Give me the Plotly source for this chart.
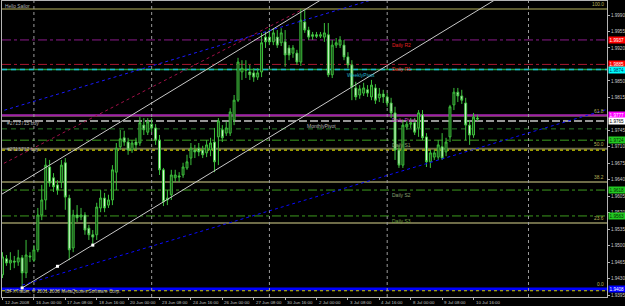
import plotly.graph_objects as go

# ---------------- data ----------------
bars = list(range(122))
opens = [1.9438, 1.9472, 1.9463, 1.9467, 1.9465, 1.9474, 1.9442, 1.9478, 1.9469, 1.9491,
         1.9565, 1.9597, 1.9667, 1.9644, 1.9629, 1.9635, 1.9676, 1.9601, 1.9495, 1.9565,
         1.9561, 1.9565, 1.9537, 1.9523, 1.9523, 1.9580, 1.9601, 1.9586, 1.9597, 1.9656,
         1.9710, 1.9729, 1.9720, 1.9703, 1.9720, 1.9718, 1.9756, 1.9741, 1.9758, 1.9750,
         1.9724, 1.9661, 1.9597, 1.9608, 1.9644, 1.9648, 1.9650, 1.9665, 1.9686, 1.9703,
         1.9707, 1.9703, 1.9697, 1.9703, 1.9720, 1.9731, 1.9746, 1.9739, 1.9739, 1.9767,
         1.9809, 1.9869, 1.9873, 1.9869, 1.9867, 1.9858, 1.9869, 1.9943, 1.9943, 1.9933,
         1.9943, 1.9931, 1.9933, 1.9920, 1.9909, 1.9909, 1.9890, 1.9975, 1.9958, 1.9948,
         1.9948, 1.9945, 1.9943, 1.9948, 1.9863, 1.9926, 1.9926, 1.9926, 1.9901, 1.9884,
         1.9835, 1.9820, 1.9824, 1.9831, 1.9816, 1.9835, 1.9814, 1.9822, 1.9816, 1.9803,
         1.9782, 1.9703, 1.9671, 1.9752, 1.9758, 1.9761, 1.9750, 1.9778, 1.9731, 1.9678,
         1.9688, 1.9688, 1.9710, 1.9699, 1.9731, 1.9799, 1.9826, 1.9818, 1.9803, 1.9756,
         1.9735, 1.9771]
highs = [1.9486, 1.9480, 1.9486, 1.9478, 1.9491, 1.9480, 1.9512, 1.9486, 1.9501, 1.9580,
         1.9629, 1.9686, 1.9682, 1.9654, 1.9639, 1.9682, 1.9686, 1.9608, 1.9576, 1.9586,
         1.9580, 1.9571, 1.9544, 1.9533, 1.9591, 1.9618, 1.9612, 1.9608, 1.9671, 1.9718,
         1.9746, 1.9744, 1.9729, 1.9724, 1.9729, 1.9773, 1.9771, 1.9771, 1.9771, 1.9758,
         1.9735, 1.9665, 1.9618, 1.9661, 1.9661, 1.9656, 1.9676, 1.9693, 1.9718, 1.9714,
         1.9718, 1.9712, 1.9724, 1.9729, 1.9750, 1.9771, 1.9756, 1.9763, 1.9792, 1.9820,
         1.9899, 1.9894, 1.9894, 1.9884, 1.9877, 1.9877, 1.9952, 1.9954, 1.9962, 1.9962,
         1.9958, 1.9962, 1.9958, 1.9926, 1.9926, 1.9916, 2.0003, 2.0001, 1.9965, 1.9954,
         1.9954, 1.9954, 1.9973, 1.9973, 1.9937, 1.9941, 1.9945, 1.9937, 1.9911, 1.9894,
         1.9848, 1.9841, 1.9846, 1.9841, 1.9852, 1.9843, 1.9835, 1.9831, 1.9824, 1.9814,
         1.9795, 1.9714, 1.9767, 1.9767, 1.9771, 1.9771, 1.9788, 1.9788, 1.9739, 1.9703,
         1.9703, 1.9724, 1.9739, 1.9729, 1.9799, 1.9835, 1.9835, 1.9831, 1.9814, 1.9767,
         1.9782, 1.9778]
lows = [1.9431, 1.9457, 1.9448, 1.9452, 1.9457, 1.9408, 1.9431, 1.9465, 1.9465, 1.9486,
        1.9554, 1.9576, 1.9625, 1.9614, 1.9608, 1.9622, 1.9576, 1.9469, 1.9486, 1.9550,
        1.9554, 1.9523, 1.9512, 1.9499, 1.9512, 1.9571, 1.9571, 1.9580, 1.9586, 1.9618,
        1.9703, 1.9712, 1.9693, 1.9697, 1.9703, 1.9712, 1.9735, 1.9735, 1.9741, 1.9714,
        1.9650, 1.9584, 1.9586, 1.9597, 1.9635, 1.9635, 1.9644, 1.9661, 1.9671, 1.9686,
        1.9690, 1.9686, 1.9688, 1.9690, 1.9656, 1.9671, 1.9720, 1.9733, 1.9733, 1.9756,
        1.9805, 1.9852, 1.9856, 1.9852, 1.9848, 1.9852, 1.9858, 1.9920, 1.9926, 1.9926,
        1.9920, 1.9924, 1.9880, 1.9894, 1.9899, 1.9884, 1.9882, 1.9952, 1.9937, 1.9937,
        1.9941, 1.9941, 1.9933, 1.9858, 1.9856, 1.9920, 1.9920, 1.9894, 1.9877, 1.9809,
        1.9809, 1.9812, 1.9818, 1.9816, 1.9809, 1.9801, 1.9805, 1.9803, 1.9795, 1.9771,
        1.9682, 1.9665, 1.9665, 1.9746, 1.9750, 1.9735, 1.9731, 1.9724, 1.9667, 1.9665,
        1.9682, 1.9682, 1.9682, 1.9690, 1.9720, 1.9788, 1.9805, 1.9801, 1.9724, 1.9714,
        1.9729, 1.9765]
closes = [1.9476, 1.9463, 1.9469, 1.9465, 1.9474, 1.9442, 1.9480, 1.9476, 1.9491, 1.9565,
          1.9597, 1.9671, 1.9633, 1.9625, 1.9618, 1.9671, 1.9603, 1.9491, 1.9565, 1.9559,
          1.9565, 1.9533, 1.9523, 1.9518, 1.9582, 1.9601, 1.9580, 1.9597, 1.9661, 1.9707,
          1.9727, 1.9720, 1.9703, 1.9718, 1.9714, 1.9761, 1.9746, 1.9763, 1.9750, 1.9724,
          1.9661, 1.9593, 1.9601, 1.9650, 1.9650, 1.9646, 1.9667, 1.9678, 1.9707, 1.9699,
          1.9699, 1.9693, 1.9714, 1.9718, 1.9678, 1.9765, 1.9729, 1.9750, 1.9784, 1.9809,
          1.9890, 1.9877, 1.9873, 1.9863, 1.9858, 1.9867, 1.9931, 1.9933, 1.9933, 1.9952,
          1.9926, 1.9952, 1.9905, 1.9905, 1.9920, 1.9890, 1.9979, 1.9958, 1.9943, 1.9945,
          1.9945, 1.9948, 1.9952, 1.9863, 1.9926, 1.9931, 1.9937, 1.9901, 1.9884, 1.9837,
          1.9816, 1.9833, 1.9835, 1.9824, 1.9841, 1.9809, 1.9822, 1.9816, 1.9803, 1.9782,
          1.9703, 1.9671, 1.9756, 1.9758, 1.9761, 1.9741, 1.9782, 1.9729, 1.9678, 1.9697,
          1.9697, 1.9714, 1.9686, 1.9720, 1.9795, 1.9826, 1.9818, 1.9809, 1.9756, 1.9735,
          1.9773, 1.9769]

date_tick_bars = [0, 8, 16, 24, 32, 40, 48, 56, 64, 72, 80, 88, 96, 104, 112, 120]
date_tick_labels = ["12 Jun 2008", "16 Jun 00:00", "17 Jun 08:00", "18 Jun 16:00",
                    "20 Jun 00:00", "23 Jun 08:00", "24 Jun 16:00", "26 Jun 00:00",
                    "27 Jun 08:00", "30 Jun 16:00", "2 Jul 00:00", "3 Jul 08:00",
                    "4 Jul 16:00", "8 Jul 00:00", "9 Jul 08:00", "10 Jul 16:00"]

price_ticks = [1.9990, 1.9955, 1.9920, 1.9850, 1.9815, 1.9745, 1.9710, 1.9675,
               1.9640, 1.9605, 1.9570, 1.9535, 1.9500, 1.9465, 1.9430, 1.9395]

week_separator_bars = [8, 38, 68, 98]
extra_vline_bar = 134

fib_labels = ["0.0", "23.6", "38.2", "50.0", "61.8", "100.0"]
fib_prices = [1.9408, 1.9548, 1.9635, 1.9706, 1.9776, 2.0003]

pivot_names = ["Daily R2", "Daily R1", "WeeklyPivot", "Daily Pivot", "MonthlyPivot",
               "Daily S1", "Daily S2", "Daily S3"]
pivot_prices = [1.9937, 1.9885, 1.9874, 1.9777, 1.9765, 1.9724, 1.9618, 1.9563]
pivot_label_bars = [98.7, 98.7, 87.3, 98.7, 77.1, 98.7, 98.7, 98.7]

order_names = ["#2713715 buy", "#2713717 buy"]
order_prices = [1.9748, 1.9703]
stop_price = 1.9404

# trend lines: anchor bars and prices
white_upper_bars, white_upper_prices = [-1, 125], [1.9605, 2.0245]
white_lower_bars, white_lower_prices = [5, 150], [1.9410, 2.0147]
white_handle_bars, white_handle_prices = [5, 14, 23], [1.9410, 1.9456, 1.9501]
blue_upper_bars, blue_upper_prices = [-1, 100], [1.9784, 2.0037]
blue_lower_bars, blue_lower_prices = [5, 155], [1.9416, 1.9792]
red_bars, red_prices = [-1, 76], [1.9669, 2.0000]

# ---------------- styling ----------------
FONT = "Liberation Sans"
AX = "#b4b4b4"
X0, X1 = -0.13, 154.0
Y0, Y1 = 1.939075, 2.001975

fig = go.Figure()

for bx, by, col in [(white_upper_bars, white_upper_prices, "#c8c8c8"),
                    (white_lower_bars, white_lower_prices, "#c8c8c8")]:
    fig.add_trace(go.Scatter(x=bx, y=by, mode="lines", line=dict(color=col, width=1),
                             hoverinfo="skip"))
for bx, by, col in [(blue_upper_bars, blue_upper_prices, "#1a1aff"),
                    (blue_lower_bars, blue_lower_prices, "#0a0aff"),
                    (red_bars, red_prices, "#a01048")]:
    fig.add_trace(go.Scatter(x=bx, y=by, mode="lines",
                             line=dict(color=col, width=1, dash="dot"), hoverinfo="skip"))

fig.add_trace(go.Candlestick(
    x=bars, open=opens, high=highs, low=lows, close=closes,
    increasing=dict(line=dict(color="#3cc03c", width=1), fillcolor="#163812"),
    decreasing=dict(line=dict(color="#3cc03c", width=1), fillcolor="#eaffe6"),
    whiskerwidth=0, hoverinfo="skip"))

fig.add_trace(go.Scatter(x=white_handle_bars, y=white_handle_prices, mode="markers",
                         marker=dict(symbol="square", size=3, color="#ffffff"),
                         hoverinfo="skip"))

shapes = []
def hline(price, color, width, dash="solid"):
    shapes.append(dict(type="line", xref="paper", x0=0, x1=1, yref="y", y0=price, y1=price,
                       line=dict(color=color, width=width, dash=dash), layer="below"))

# fibonacci levels
for lab, p in zip(fib_labels, fib_prices):
    if lab == "0.0":
        hline(p, "#0000ff", 3)
    elif lab == "100.0":
        hline(p, "#7c7a40", 1.5)
    else:
        hline(p, "#6e6c48", 2)

pivot_styles = {
    "Daily R2": ("#8a1a8a", 1, "dashdot"),
    "Daily R1": ("#a81830", 1, "dashdot"),
    "Daily Pivot": ("#a020a8", 2, "solid"),
    "MonthlyPivot": ("#c8c8c8", 1.5, "8px,3px"),
    "Daily S1": ("#3c9a1e", 1, "dashdot"),
    "Daily S2": ("#3c9a1e", 1, "dashdot"),
    "Daily S3": ("#3c9a1e", 1, "dashdot"),
}
for n, p in zip(pivot_names, pivot_prices):
    if n == "WeeklyPivot":
        hline(p, "#20a040", 1.5)
        hline(p, "#1fb4d0", 1.5, "5px,4px")
    else:
        c, w, d = pivot_styles[n]
        hline(p, c, w, d)

hline(order_prices[0], "#2a7a2a", 1, "5px,4px")
hline(order_prices[1], "#d0d000", 1.2, "dot")
hline(stop_price, "#d0d000", 1, "dot")

for b in week_separator_bars + [extra_vline_bar]:
    shapes.append(dict(type="line", xref="x", x0=b, x1=b, yref="paper", y0=0, y1=1,
                       line=dict(color="#9a9a9a", width=1, dash="dot"), layer="below"))

ann = []
def text(x, y, s, color, size=5, xref="x", yref="y", xanchor="left", yanchor="middle",
         xshift=0, yshift=0, bg=None):
    d = dict(x=x, y=y, xref=xref, yref=yref, text=s, showarrow=False, xanchor=xanchor,
             yanchor=yanchor, xshift=xshift, yshift=yshift,
             font=dict(family=FONT, size=size, color=color))
    if bg:
        d.update(bgcolor=bg, borderpad=0.6)
    ann.append(d)

pivot_text_colors = {"Daily R2": "#e02020", "Daily R1": "#e02020", "WeeklyPivot": "#20b0c8",
                     "Daily Pivot": "#d030d0", "MonthlyPivot": "#b4b4b4",
                     "Daily S1": "#8aa070", "Daily S2": "#8aa070", "Daily S3": "#70a040"}
for n, p, b in zip(pivot_names, pivot_prices, pivot_label_bars):
    text(b, p, n, pivot_text_colors[n], yanchor="top", yshift=0)

text(0, order_prices[0], order_names[0], "#b4b4b4", yanchor="bottom", xshift=2, yshift=1)
text(0, order_prices[1], order_names[1], "#b4b4b4", yanchor="middle", xshift=2, yshift=1)

for lab, p in zip(fib_labels, fib_prices):
    text(1, p, lab, "#b8b058", size=4.8, xref="paper", xanchor="right", yanchor="bottom",
         xshift=-1, yshift=0)

tags = [(pivot_prices[0], "#ff0000", "#ffffff"), (pivot_prices[1], "#ff0000", "#ffffff"),
        (pivot_prices[2], "#00ffff", "#003060"), (pivot_prices[3], "#ff00ff", "#ffffff"),
        (pivot_prices[4], "#ffffff", "#000000"), (pivot_prices[5], "#22c822", "#003000"),
        (pivot_prices[6], "#22c822", "#003000"), (pivot_prices[7], "#22c822", "#003000"),
        (fib_prices[0], "#0000ff", "#ffffff")]
for p, bg, fg in tags:
    text(1, p, f"{p:.4f}", fg, size=4.6, xref="paper", xanchor="left", xshift=1, bg=bg)

for b, s in zip(date_tick_bars, date_tick_labels):
    text(b, 0, s, "#c0c0c0", size=4.4, yref="paper", xanchor="left", yanchor="top",
         xshift=0, yshift=-1)

text(0, 1, "Hello Sailor", "#b4b4b4", size=4.8, xref="paper", yref="paper",
     xanchor="left", yanchor="top", xshift=1, yshift=-1)
text(0, 0, "IBFXTrader, © 2001-2008 MetaQuotes Software Corp.", "#b4b4b4", size=4.8,
     xref="paper", yref="paper", xanchor="left", yanchor="bottom", xshift=1, yshift=1)

fig.update_layout(
    width=625, height=306, margin=dict(l=2, r=18, t=1, b=9),
    paper_bgcolor="#000000", plot_bgcolor="#000000", showlegend=False,
    shapes=shapes, annotations=ann, hovermode=False,
    xaxis=dict(range=[X0, X1], showgrid=False, zeroline=False, showline=True,
               linecolor=AX, linewidth=1, mirror=True, tickvals=date_tick_bars,
               ticks="outside", ticklen=2, tickcolor=AX, showticklabels=False,
               rangeslider=dict(visible=False)),
    yaxis=dict(range=[Y0, Y1], side="right", showgrid=False, zeroline=False,
               showline=True, linecolor=AX, linewidth=1, mirror=True,
               tickvals=price_ticks, ticktext=[f"{v:.4f}" for v in price_ticks],
               ticks="outside", ticklen=2, tickcolor=AX,
               tickfont=dict(family=FONT, size=4.6, color="#c8c8c8")),
)

fig.write_html("out.html", config={"displayModeBar": False})
